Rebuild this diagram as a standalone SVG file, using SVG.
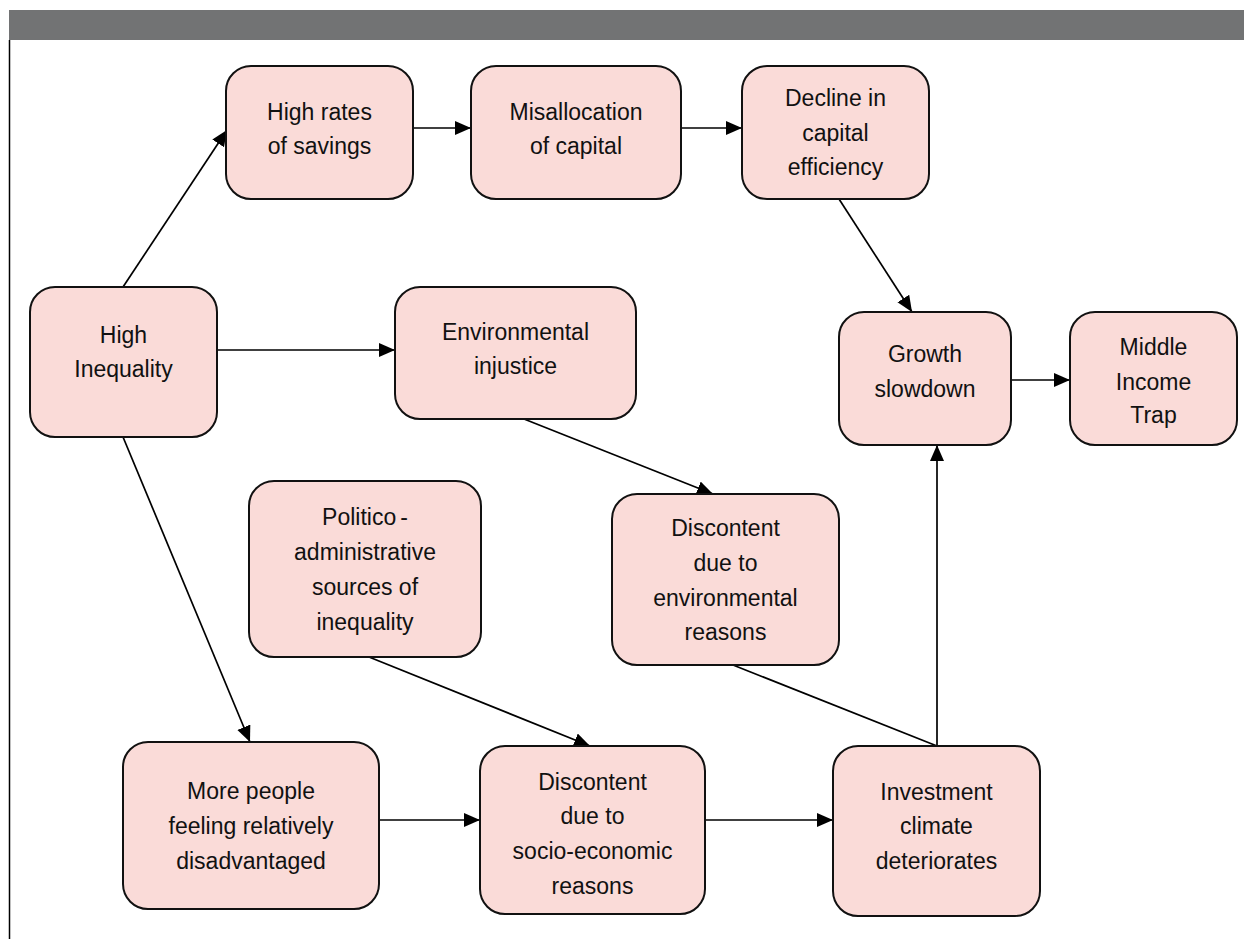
<svg xmlns="http://www.w3.org/2000/svg" width="1244" height="939" viewBox="0 0 1244 939">
<style>
.box{fill:#fadbd8;stroke:#111;stroke-width:2}
.t{font-family:"Liberation Sans",Arial,sans-serif;font-size:23px;fill:#111;text-anchor:middle}
.c{fill:none;stroke:#000;stroke-width:1.7}
</style>
<defs>
<marker id="ah" markerUnits="userSpaceOnUse" markerWidth="17" markerHeight="15" refX="16" refY="7" orient="auto"><path d="M0,0 L16,7 L0,14 z" fill="#000"/></marker>
</defs>
<rect x="9" y="10" width="1235" height="30" fill="#727374"/>
<line x1="9.5" y1="40" x2="9.5" y2="939" stroke="#000" stroke-width="1.5"/>
<g id="connectors">
<path class="c" d="M123,287 L227,130" marker-end="url(#ah)"/>
<path class="c" d="M413,128 L471,128" marker-end="url(#ah)"/>
<path class="c" d="M681,128 L742,128" marker-end="url(#ah)"/>
<path class="c" d="M839,199 L912,312" marker-end="url(#ah)"/>
<path class="c" d="M1011,380 L1070,380" marker-end="url(#ah)"/>
<path class="c" d="M217,350 L395,350" marker-end="url(#ah)"/>
<path class="c" d="M524,419 L713,494" marker-end="url(#ah)"/>
<path class="c" d="M123,437 L250,742" marker-end="url(#ah)"/>
<path class="c" d="M369,657 L590,746" marker-end="url(#ah)"/>
<path class="c" d="M379,820 L480,820" marker-end="url(#ah)"/>
<path class="c" d="M705,820 L833,820" marker-end="url(#ah)"/>
<path class="c" d="M733,665 L937,746"/>
<path class="c" d="M937,746 L937,445" marker-end="url(#ah)"/>
</g>
<g id="n-high-rates"><rect class="box" x="226" y="66" width="187" height="133" rx="25"/><text class="t" x="319.5" y="120">High rates</text><text class="t" x="319.5" y="154">of savings</text></g>
<g id="n-misallocation"><rect class="box" x="471" y="66" width="210" height="133" rx="25"/><text class="t" x="576" y="120">Misallocation</text><text class="t" x="576" y="154">of capital</text></g>
<g id="n-decline"><rect class="box" x="742" y="66" width="187" height="133" rx="25"/><text class="t" x="835.5" y="106">Decline in</text><text class="t" x="835.5" y="141">capital</text><text class="t" x="835.5" y="175">efficiency</text></g>
<g id="n-high-inequality"><rect class="box" x="30" y="287" width="187" height="150" rx="25"/><text class="t" x="123.5" y="343">High</text><text class="t" x="123.5" y="377">Inequality</text></g>
<g id="n-env-injustice"><rect class="box" x="395" y="287" width="241" height="132" rx="25"/><text class="t" x="515.5" y="340">Environmental</text><text class="t" x="515.5" y="374">injustice</text></g>
<g id="n-growth"><rect class="box" x="839" y="312" width="172" height="133" rx="25"/><text class="t" x="925" y="362">Growth</text><text class="t" x="925" y="397">slowdown</text></g>
<g id="n-middle"><rect class="box" x="1070" y="312" width="167" height="133" rx="25"/><text class="t" x="1153.5" y="355">Middle</text><text class="t" x="1153.5" y="390">Income</text><text class="t" x="1153.5" y="423">Trap</text></g>
<g id="n-politico"><rect class="box" x="249" y="481" width="232" height="176" rx="25"/><text class="t" x="365" y="525">Politico<tspan dx="4">-</tspan></text><text class="t" x="365" y="560">administrative</text><text class="t" x="365" y="595">sources of</text><text class="t" x="365" y="630">inequality</text></g>
<g id="n-disc-env"><rect class="box" x="612" y="494" width="227" height="171" rx="25"/><text class="t" x="725.5" y="536">Discontent</text><text class="t" x="725.5" y="571">due to</text><text class="t" x="725.5" y="606">environmental</text><text class="t" x="725.5" y="640">reasons</text></g>
<g id="n-more-people"><rect class="box" x="123" y="742" width="256" height="167" rx="25"/><text class="t" x="251" y="799">More people</text><text class="t" x="251" y="834">feeling relatively</text><text class="t" x="251" y="869">disadvantaged</text></g>
<g id="n-disc-socio"><rect class="box" x="480" y="746" width="225" height="168" rx="25"/><text class="t" x="592.5" y="790">Discontent</text><text class="t" x="592.5" y="824">due to</text><text class="t" x="592.5" y="859">socio-economic</text><text class="t" x="592.5" y="894">reasons</text></g>
<g id="n-investment"><rect class="box" x="833" y="746" width="207" height="170" rx="25"/><text class="t" x="936.5" y="800">Investment</text><text class="t" x="936.5" y="834">climate</text><text class="t" x="936.5" y="869">deteriorates</text></g>
</svg>
